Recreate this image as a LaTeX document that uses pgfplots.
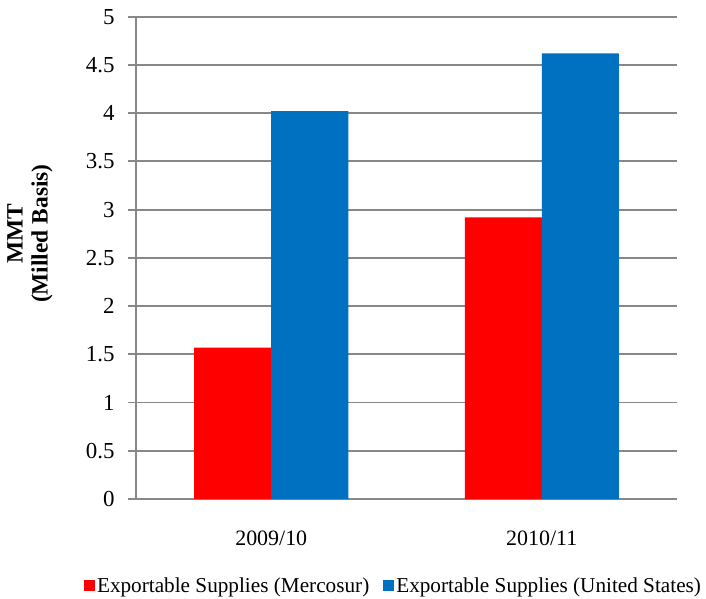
\documentclass[border=0pt]{standalone}
\usepackage{fontspec}
\setmainfont{Liberation Serif}
\usepackage{pgfplots}
\pgfplotsset{compat=1.18}
\definecolor{merc}{HTML}{FF0000}
\definecolor{usa}{HTML}{0070C0}
\definecolor{gridgray}{HTML}{888888}
\begin{document}
\begin{tikzpicture}
\useasboundingbox (-136bp,-100bp) rectangle (570bp,499bp);
\begin{axis}[
  at={(0,0)}, anchor=south west,
  scale only axis,
  width=541bp, height=482.3bp,
  xmin=-0.5, xmax=1.5,
  ymin=0, ymax=5,
  ytick={0,0.5,...,5},
  yticklabels={0,0.5,1,1.5,2,2.5,3,3.5,4,4.5,5},
  xtick={0,1},
  xticklabels={2009/10,2010/11},
  major x tick style={draw=none},
  extra x ticks={-0.5,0.5,1.5},
  extra x tick labels={},
  extra x tick style={major tick length=8bp, tick style={draw=gridgray, line width=1.8bp}, grid=none},
  axis lines*=left,
  axis line style={draw=gridgray, line width=1.8bp},
  tick align=outside,
  major tick length=8bp,
  y tick style={draw=gridgray, line width=1.8bp},
  ymajorgrids,
  grid style={draw=gridgray, line width=1.8bp},
  yticklabel style={font=\fontsize{23}{25}\selectfont, xshift=-10bp},
  xticklabel style={font=\fontsize{22}{24}\selectfont, yshift=-20bp},
  /pgf/number format/assume math mode=true,
  ylabel={MMT\\(Milled Basis)},
  ylabel style={at={(axis description cs:-0.196,0.55)}, anchor=center, align=center, font=\fontsize{23.5}{25}\selectfont\bfseries},
  ybar=0pt,
  bar width=77bp,
  legend style={at={(axis description cs:0.476,-0.18)}, anchor=center, draw=none, legend columns=2, font=\fontsize{21.3}{24}\selectfont, /tikz/every even column/.append style={column sep=12bp}},
  legend image code/.code={\fill[#1] (0bp,-5.5bp) rectangle (11bp,5.5bp);},
]
\addplot[fill=merc, draw=none] coordinates {(0,1.57) (1,2.92)};
\addplot[fill=usa, draw=none] coordinates {(0,4.02) (1,4.62)};
\legend{Exportable Supplies (Mercosur), Exportable Supplies (United States)}
\end{axis}
\end{tikzpicture}
\end{document}
